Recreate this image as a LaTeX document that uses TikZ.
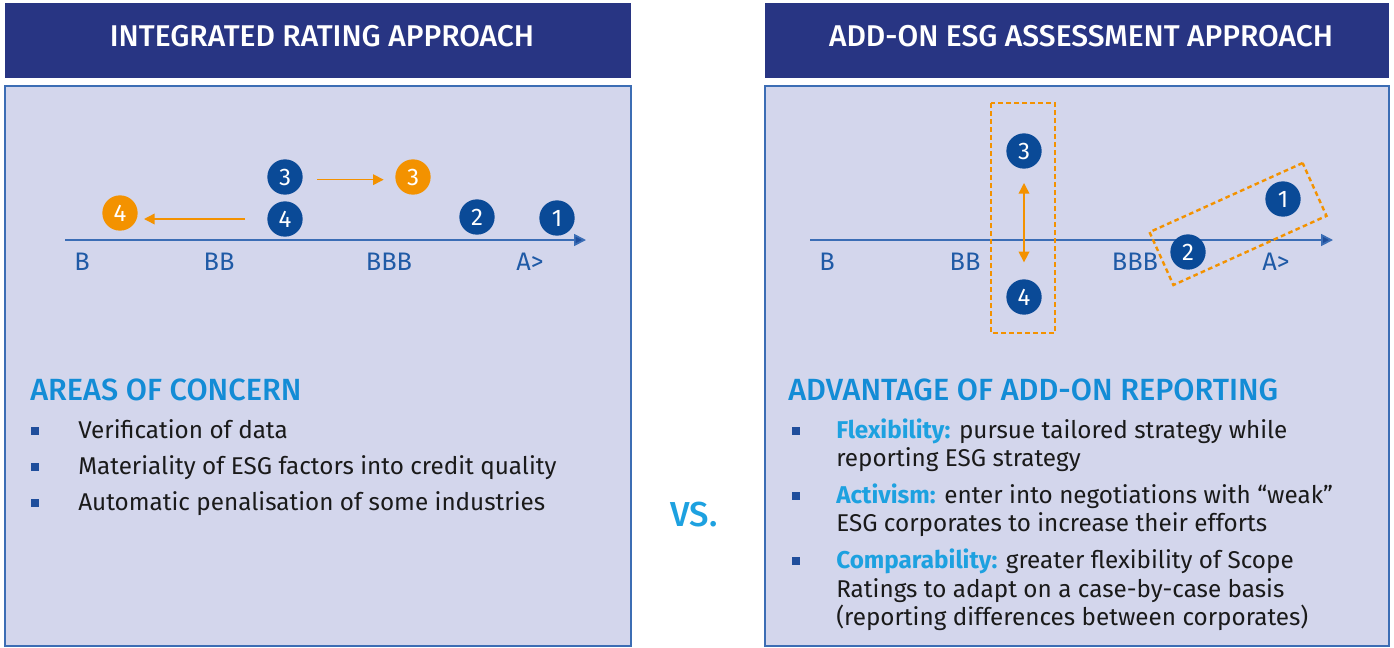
\documentclass[tikz,border=0pt]{standalone}
\usepackage{fontspec}
\setmainfont{Fira Sans}
\newfontfamily\medfont{Fira Sans Medium}
\usetikzlibrary{arrows.meta}
\definecolor{navy}{HTML}{283583}
\definecolor{panelfill}{HTML}{D3D6EC}
\definecolor{panelline}{HTML}{3C6DB4}
\definecolor{dotblue}{HTML}{0A4A97}
\definecolor{orng}{HTML}{F39200}
\definecolor{axisblue}{HTML}{3A6DB5}
\definecolor{labblue}{HTML}{1F5AA6}
\definecolor{headblue}{HTML}{138CD6}
\definecolor{termblue}{HTML}{1DA1E0}
\definecolor{bulblue}{HTML}{1F4E9C}
\definecolor{bodytext}{HTML}{1A1A1A}
\begin{document}
\begin{tikzpicture}[x=0.75pt,y=-0.75pt,
  header/.style={fill=navy,draw=none},
  panel/.style={fill=panelfill,draw=panelline,line width=1.2pt},
  headtext/.style={text=white,font=\medfont\fontsize{22.5}{24}\selectfont,anchor=base,inner sep=0pt},
  dotb/.style={circle,fill=dotblue,minimum size=26.5pt,inner sep=0pt,text=white,font=\fontsize{18}{18}\selectfont},
  doto/.style={dotb,fill=orng},
  axislab/.style={text=labblue,font=\fontsize{19}{20}\selectfont,anchor=base,inner sep=0pt},
  axisline/.style={draw=axisblue,line width=1.3pt,-{Triangle[length=9pt,width=9pt,fill=bulblue]}},
  oarrow/.style={draw=orng,line width=1.1pt,-{Triangle[length=8pt,width=8pt]}},
  odarrow/.style={draw=orng,line width=1.1pt,{Triangle[length=8pt,width=8pt]}-{Triangle[length=8pt,width=8pt]}},
  obox/.style={draw=orng,line width=1.8pt,dash pattern=on 3.5pt off 2.5pt},
  sechead/.style={text=headblue,font=\medfont\fontsize{23}{25}\selectfont,anchor=base west,inner sep=0pt},
  bodyline/.style={text=bodytext,font=\fontsize{18.2}{20}\selectfont,anchor=base west,inner sep=0pt},
  bulletsq/.style={fill=bulblue,minimum size=6pt,inner sep=0pt,draw=none}
]
\useasboundingbox (0,0) rectangle (1394,647);
\fill[white] (0,0) rectangle (1394,647);

% headers
\path[header] (5,3) rectangle (631,78);
\path[header] (765,3) rectangle (1389,78);
\node[headtext] (hL) at (322,46) {INTEGRATED RATING APPROACH};
\node[headtext] (hR) at (1081,46) {ADD-ON ESG ASSESSMENT APPROACH};

% panels
\path[panel] (5,86) rectangle (631,646);
\path[panel] (765,86) rectangle (1389,646);

% ---------------- left diagram
\coordinate (aL1) at (65,240);
\coordinate (aL2) at (586,240);
\draw[axisline] (aL1) -- (aL2);
\node[axislab] (lB) at (82,270) {B};
\node[axislab] (lBB) at (219,270) {BB};
\node[axislab] (lBBB) at (389,270) {BBB};
\node[axislab] (lA) at (530,270) {A>};

\node[dotb] (b3) at (285,177) {3};
\node[doto] (o3) at (413,177) {3};
\node[dotb] (b4) at (285,219) {4};
\node[doto] (o4) at (120,213) {4};
\node[dotb] (b2) at (477,217) {2};
\node[dotb] (b1) at (557,218) {1};
\draw[oarrow,shorten <=24pt,shorten >=22pt] ([yshift=-2pt]b3.center) -- ([yshift=-2pt]b3.center -| o3.center);
\draw[oarrow,shorten <=30pt,shorten >=18pt] (b4.center) -- (b4.center -| o4.center);

% ---------------- right diagram
\coordinate (aR1) at (810,240);
\coordinate (aR2) at (1333,240);
\draw[axisline] (aR1) -- (aR2);
\node[axislab] (rB) at (827,270) {B};
\node[axislab] (rBB) at (965,270) {BB};
\node[axislab] (rBBB) at (1135,270) {BBB};
\node[axislab] (rA) at (1276,270) {A>};

\draw[obox] (991,103) rectangle (1055,333);
\node[obox,rotate=24.3,minimum width=126pt,minimum height=43.5pt,inner sep=0pt] (rbox) at (1238,224) {};

\node[dotb] (r3) at (1024,151) {3};
\node[dotb] (r4) at (1024,297) {4};
\node[dotb] (r1) at (1283,199) {1};
\node[dotb] (r2) at (1188,252) {2};
\draw[odarrow,shorten <=24pt,shorten >=26pt] (r3.center) -- (r4.center);

% ---------------- left text
\node[sechead] (secL) at (30,400) {AREAS OF CONCERN};
\node[bulletsq] (bl1) at (35,431) {};
\node[bulletsq] (bl2) at (35,467) {};
\node[bulletsq] (bl3) at (35,503) {};
\node[bodyline] (tl1) at (78,438) {Verification of data};
\node[bodyline] (tl2) at (78,474) {Materiality of ESG factors into credit quality};
\node[bodyline] (tl3) at (78,510) {Automatic penalisation of some industries};

% ---------------- VS
\node[text=termblue,font=\medfont\fontsize{26}{28}\selectfont,anchor=base] (vs) at (694,526) {VS.};

% ---------------- right text
\node[sechead] (secR) at (788,400) {ADVANTAGE OF ADD-ON REPORTING};
\node[bulletsq] (br1) at (796,431) {};
\node[bulletsq] (br2) at (796,496) {};
\node[bulletsq] (br3) at (796,561) {};
\node[bodyline] (tr1a) at (836,438) {\textcolor{termblue}{\bfseries Flexibility:} pursue tailored strategy while};
\node[bodyline] (tr1b) at (836,466) {reporting ESG strategy};
\node[bodyline] (tr2a) at (836,503) {\textcolor{termblue}{\bfseries Activism:} enter into negotiations with “weak”};
\node[bodyline] (tr2b) at (836,531) {ESG corporates to increase their efforts};
\node[bodyline] (tr3a) at (836,568) {\textcolor{termblue}{\bfseries Comparability:} greater flexibility of Scope};
\node[bodyline] (tr3b) at (836,597) {Ratings to adapt on a case-by-case basis};
\node[bodyline] (tr3c) at (836,625) {(reporting differences between corporates)};
\end{tikzpicture}
\end{document}
